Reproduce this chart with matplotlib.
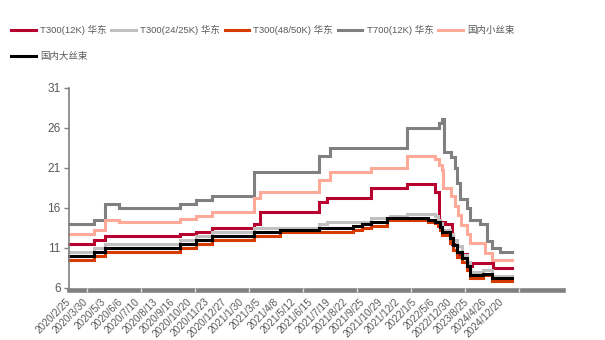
import numpy as np
import matplotlib
matplotlib.use("Agg")
import matplotlib.pyplot as plt
from matplotlib.ticker import FixedLocator

plt.rcParams['font.family'] = ['Liberation Sans', 'Noto Sans CJK SC']

# category axis: one label every 34 rows
x_labels = ['2020/2/25', '2020/3/30', '2020/5/3', '2020/6/6', '2020/7/10', '2020/8/13',
            '2020/9/16', '2020/10/20', '2020/11/23', '2020/12/27', '2021/1/30', '2021/3/5',
            '2021/4/8', '2021/5/12', '2021/6/15', '2021/7/19', '2021/8/22', '2021/9/25',
            '2021/10/29', '2021/12/2', '2022/1/5', '2022/5/6', '2022/12/30', '2023/8/25',
            '2024/4/26', '2024/12/20']
label_step = 34
n_categories = 970
last_row = 869

# price change points: row index where the price changes, and the new price
t300_12k_idx = [0, 50, 71, 217, 249, 280, 363, 375, 490, 507, 593, 664, 718, 727, 738, 752,
                762, 781, 792, 832]
t300_12k_val = [11.5, 12.0, 12.5, 12.75, 13.0, 13.5, 14.0, 15.5, 16.75, 17.25, 18.5, 19.0,
                18.0, 14.3, 14.0, 11.5, 10.2, 8.8, 9.1, 8.5]

t300_24k_idx = [0, 50, 71, 217, 249, 280, 363, 490, 507, 593, 630, 664, 718, 724, 728, 733,
                748, 754, 761, 771, 781, 787, 813, 830]
t300_24k_val = [10.5, 11.0, 11.5, 12.0, 12.5, 13.0, 13.5, 14.0, 14.25, 14.75, 15.0, 15.25,
                15.0, 14.5, 14.1, 13.3, 12.8, 12.0, 11.2, 10.1, 9.3, 8.0, 8.25, 7.5]

t300_48k_idx = [0, 50, 71, 217, 249, 280, 363, 414, 558, 575, 593, 624, 705, 718, 724, 728,
                733, 748, 754, 761, 771, 781, 787, 813, 830]
t300_48k_val = [9.5, 10.0, 10.5, 11.0, 11.5, 12.0, 12.5, 13.0, 13.25, 13.5, 13.75, 14.5, 14.2,
                14.1, 13.75, 13.3, 12.6, 11.6, 10.75, 9.9, 9.3, 8.25, 7.3, 7.6, 6.9]

t700_12k_idx = [0, 50, 71, 99, 217, 249, 280, 363, 490, 512, 664, 727, 732, 737, 751, 758,
                762, 767, 781, 787, 807, 820, 830, 847]
t700_12k_val = [14.0, 14.5, 16.5, 16.0, 16.5, 17.0, 17.5, 20.5, 22.5, 23.5, 26.0, 26.6, 27.1,
                23.0, 22.4, 21.0, 19.1, 17.1, 16.0, 14.5, 14.0, 11.9, 11.0, 10.5]

small_tow_idx = [0, 50, 71, 99, 217, 249, 280, 363, 375, 490, 512, 593, 664, 718, 727, 732,
                 735, 751, 757, 764, 770, 781, 787, 817, 830]
small_tow_val = [12.75, 13.25, 14.5, 14.25, 14.6, 15.0, 15.5, 17.2, 18.0, 19.5, 20.5, 21.0,
                 22.5, 22.1, 21.4, 20.75, 18.5, 17.5, 16.2, 15.1, 13.9, 12.8, 11.6, 10.4, 9.5]

large_tow_idx = [0, 50, 71, 217, 249, 280, 363, 414, 490, 558, 575, 593, 624, 705, 718, 728,
                 733, 748, 754, 761, 771, 781, 787, 813, 830]
large_tow_val = [10.0, 10.5, 11.0, 11.5, 12.0, 12.5, 13.0, 13.25, 13.5, 13.75, 14.0, 14.25,
                 14.75, 14.5, 14.3, 13.6, 13.0, 12.2, 11.4, 10.5, 9.7, 8.7, 7.6, 7.8, 7.2]

series = [
    ('T300(12K) 华东', t300_12k_idx, t300_12k_val, '#B8002E'),
    ('T300(24/25K) 华东', t300_24k_idx, t300_24k_val, '#C0C0C0'),
    ('T300(48/50K) 华东', t300_48k_idx, t300_48k_val, '#D83B01'),
    ('T700(12K) 华东', t700_12k_idx, t700_12k_val, '#808080'),
    ('国内小丝束', small_tow_idx, small_tow_val, '#FFA999'),
    ('国内大丝束', large_tow_idx, large_tow_val, '#000000'),
]

text_color = '#595959'
axis_color = '#808080'

fig = plt.figure(figsize=(6.05, 3.4), dpi=100)
ax = fig.add_axes([69 / 605, 1 - 288 / 340, (563 - 69) / 605, 200 / 340])

handles = []
for name, idx, val, color in series:
    x = list(idx) + [last_row]
    y = list(val) + [val[-1]]
    h, = ax.plot(x, y, drawstyle='steps-post', color=color, lw=2.2, label=name,
                 solid_joinstyle='miter', clip_on=False)
    handles.append(h)

ax.set_xlim(0, n_categories)
ax.set_ylim(6, 31)
ax.set_yticks([6, 11, 16, 21, 26, 31])

label_pos = np.arange(len(x_labels)) * label_step
ax.set_xticks(label_pos)
ax.set_xticklabels(x_labels)
ax.xaxis.set_minor_locator(FixedLocator([35, 141, 247, 353, 459, 565, 671, 777, 883]))

ax.tick_params(axis='x', which='major', length=0, pad=7, labelsize=7.2, labelcolor=text_color,
               labelrotation=45)
ax.tick_params(axis='x', which='minor', length=3.3, width=1, color='#E0E0E0', direction='inout')
ax.tick_params(axis='y', length=3.6, width=1, color=axis_color, pad=2.5,
               labelsize=8.6, labelcolor=text_color)

for s in ['top', 'right']:
    ax.spines[s].set_visible(False)
ax.spines['left'].set_color(axis_color)
ax.spines['left'].set_linewidth(1.2)
ax.spines['bottom'].set_color(axis_color)
ax.spines['bottom'].set_linewidth(3.3)
ax.spines['bottom'].set_position(('outward', 1.5))
ax.spines['bottom'].set_zorder(1)

order = [0, 5, 1, 2, 3, 4]
leg = fig.legend([handles[i] for i in order], [series[i][0] for i in order],
                 loc='upper left', bbox_to_anchor=(11 / 605, 1 - 25 / 340), ncol=5,
                 frameon=False, fontsize=6.8, handlelength=2.6, handletextpad=0.45,
                 columnspacing=0.5, borderaxespad=0, borderpad=0, labelspacing=1.8)
for t in leg.get_texts():
    t.set_color(text_color)

for lab in ax.get_xticklabels():
    lab.set_horizontalalignment('right')
    lab.set_verticalalignment('center')
    lab.set_rotation_mode('anchor')

fig.savefig('out.png', dpi=100)
